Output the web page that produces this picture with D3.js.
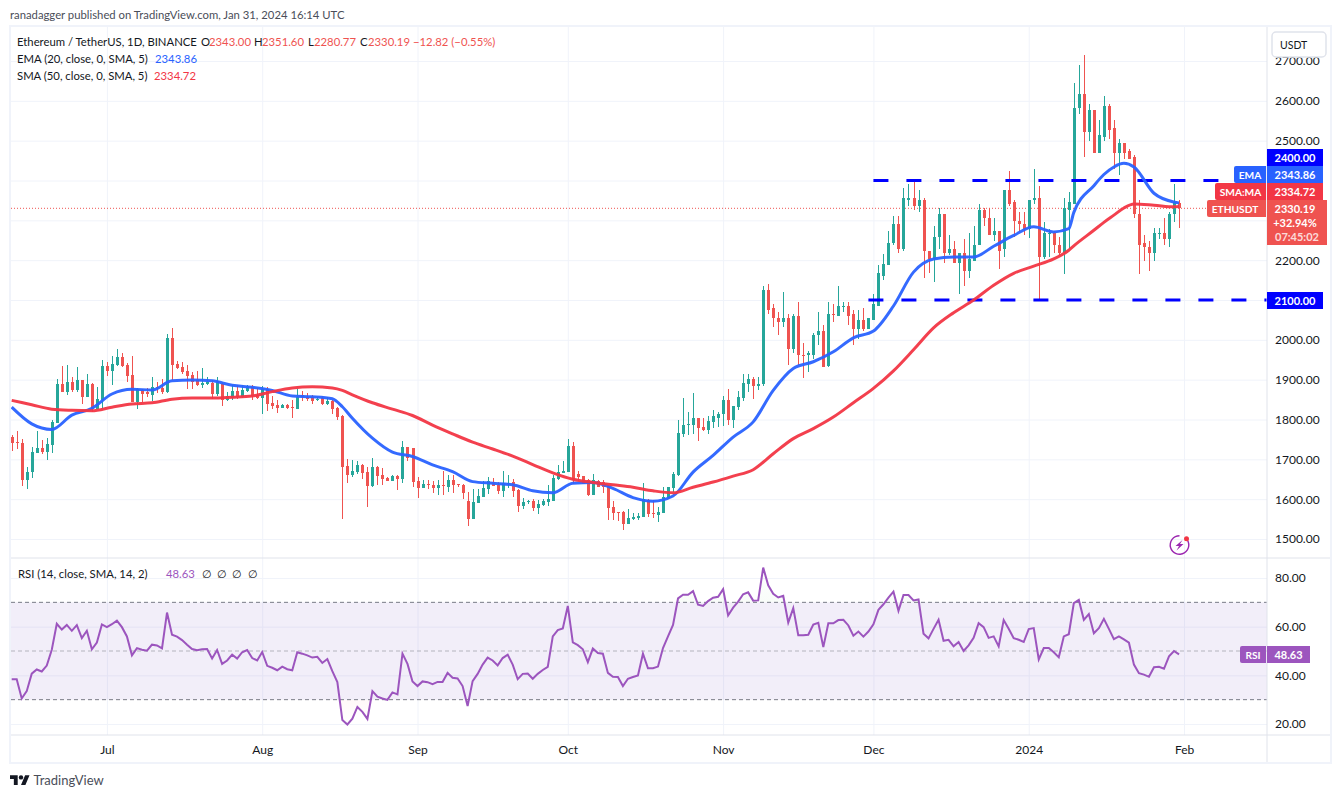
<!DOCTYPE html>
<html>
<head>
<meta charset="utf-8">
<script src="https://cdn.jsdelivr.net/npm/d3@7"></script>
<style>
    body { margin: 0; background: #fff; }
    svg { display: block; }
    text { font-family: Lato, sans-serif; font-size: 11.3px; fill: #131722; }
    .axis path, .axis line { display: none; }
    .grid path { display: none; }
    .grid line { stroke: #f0f3fa; stroke-width: 1; }
    .tag { fill: #fff; font-weight: 700; font-size: 11px; }
</style>
</head>
<body>
<svg id="chart" width="1341" height="798"></svg>
<script>
// Дневные свечи ETHUSDT, 12 июня 2023 - 31 января 2024
const firstDay = "2023-06-12";
const opens = [
    1755,1744,1741,1648,1667,1717,1729,1719,1737,1791,
    1889,1870,1894,1874,1899,1857,1889,1827,1849,1934,
    1922,1937,1957,1937,1912,1844,1873,1868,1862,1882,
    1879,1869,2005,1940,1932,1922,1912,1899,1887,1889,
    1892,1864,1889,1849,1854,1872,1857,1872,1882,1861,
    1854,1877,1842,1837,1829,1837,1832,1827,1861,1856,
    1857,1849,1854,1839,1847,1829,1809,1683,1661,1667,
    1686,1668,1633,1681,1661,1653,1646,1658,1651,1731,
    1728,1646,1628,1638,1636,1628,1636,1631,1648,1637,
    1636,1595,1550,1590,1605,1626,1643,1636,1621,1638,
    1643,1623,1583,1592,1595,1578,1585,1593,1595,1651,
    1666,1668,1733,1663,1658,1648,1610,1646,1643,1633,
    1580,1567,1568,1538,1550,1553,1555,1598,1565,1560,
    1565,1603,1628,1660,1763,1785,1785,1803,1780,1773,
    1793,1805,1813,1848,1798,1831,1853,1888,1901,1883,
    1888,2124,2079,2056,2044,2056,1978,2061,1963,1963,
    1963,2011,2023,1934,2066,2061,2084,2086,2064,2026,
    2051,2028,2051,2086,2161,2189,2242,2292,2229,2352,
    2357,2337,2352,2224,2202,2257,2315,2217,2229,2194,
    2219,2174,2199,2237,2325,2307,2262,2272,2229,2377,
    2345,2299,2292,2279,2350,2355,2207,2267,2269,2239,
    2219,2327,2342,2581,2618,2521,2578,2470,2510,2588,
    2531,2468,2493,2473,2459,2315,2242,2234,2217,2265,
    2267,2254,2315,2343.00
];
const highs = [
    1761,1771,1751,1682,1731,1771,1749,1754,1799,1901,
    1934,1937,1907,1932,1899,1914,1891,1882,1950,1945,
    1960,1977,1967,1942,1960,1879,1877,1878,1907,1894,
    1902,2015,2030,1947,1945,1937,1919,1922,1929,1907,
    1899,1907,1894,1869,1887,1887,1887,1887,1887,1879,
    1884,1882,1859,1849,1839,1839,1849,1877,1872,1867,
    1862,1857,1859,1857,1849,1832,1811,1701,1698,1696,
    1688,1681,1703,1683,1678,1656,1661,1661,1745,1731,
    1728,1656,1648,1648,1646,1648,1671,1661,1661,1638,
    1638,1618,1625,1625,1646,1656,1653,1643,1671,1661,
    1651,1625,1603,1598,1600,1598,1600,1636,1661,1686,
    1696,1751,1743,1671,1658,1650,1663,1648,1648,1636,
    1595,1568,1570,1575,1565,1565,1641,1600,1598,1580,
    1631,1631,1668,1800,1853,1819,1866,1803,1803,1810,
    1823,1820,1858,1876,1835,1871,1913,1913,1906,1906,
    2134,2139,2091,2071,2121,2066,2064,2094,1993,1973,
    2018,2069,2036,2094,2091,2136,2094,2096,2074,2076,
    2079,2056,2114,2189,2216,2274,2310,2312,2382,2392,
    2404,2377,2355,2224,2285,2332,2317,2262,2249,2219,
    2254,2267,2285,2342,2330,2332,2305,2274,2377,2425,
    2350,2321,2322,2352,2430,2385,2295,2277,2272,2257,
    2357,2372,2644,2689,2716,2591,2578,2553,2613,2593,
    2551,2503,2493,2480,2465,2352,2264,2247,2282,2282,
    2307,2322,2392,2351.60
];
const lows = [
    1722,1727,1632,1626,1652,1717,1714,1698,1717,1791,
    1868,1862,1868,1870,1839,1856,1820,1826,1826,1909,
    1887,1934,1932,1894,1844,1827,1844,1857,1847,1866,
    1864,1867,1899,1927,1914,1877,1877,1884,1879,1887,
    1852,1859,1834,1847,1849,1852,1854,1869,1849,1852,
    1814,1822,1827,1817,1829,1827,1804,1827,1847,1847,
    1839,1847,1837,1837,1814,1799,1550,1641,1656,1663,
    1651,1580,1631,1636,1636,1646,1646,1623,1641,1696,
    1631,1603,1628,1626,1616,1610,1610,1618,1615,1631,
    1600,1533,1550,1590,1605,1613,1633,1613,1605,1628,
    1605,1568,1575,1588,1570,1563,1583,1583,1595,1648,
    1666,1668,1638,1646,1638,1608,1610,1631,1615,1548,
    1548,1545,1523,1538,1548,1548,1555,1555,1553,1543,
    1565,1600,1618,1658,1756,1760,1763,1745,1770,1763,
    1778,1780,1783,1785,1778,1823,1846,1868,1851,1873,
    1885,2066,2033,2013,2031,1938,1968,1938,1905,1918,
    1953,1988,1933,1931,2044,2061,2069,2038,1988,2001,
    2021,2026,2049,2086,2149,2189,2237,2219,2222,2337,
    2327,2320,2156,2167,2144,2227,2192,2214,2192,2116,
    2136,2156,2199,2237,2285,2262,2247,2179,2209,2337,
    2257,2271,2262,2256,2340,2101,2202,2207,2217,2212,
    2166,2227,2340,2566,2458,2498,2470,2470,2500,2503,
    2428,2415,2455,2453,2305,2166,2197,2172,2197,2252,
    2239,2234,2297,2280.77
];
const closes = [
    1742,1742,1648,1668,1719,1728,1719,1739,1794,1889,
    1869,1894,1875,1899,1857,1889,1826,1852,1934,1922,
    1940,1957,1934,1909,1844,1877,1864,1865,1882,1878,
    1869,2005,1937,1929,1919,1909,1894,1887,1892,1893,
    1864,1897,1849,1859,1872,1857,1874,1884,1859,1854,
    1877,1839,1834,1829,1837,1829,1830,1857,1857,1852,
    1847,1852,1839,1847,1827,1806,1681,1661,1671,1686,
    1666,1633,1681,1658,1651,1646,1658,1651,1731,1703,
    1643,1628,1638,1636,1628,1636,1633,1648,1636,1635,
    1616,1550,1593,1608,1628,1646,1633,1621,1641,1641,
    1621,1583,1593,1595,1578,1588,1595,1600,1653,1668,
    1671,1733,1648,1656,1638,1610,1648,1631,1631,1578,
    1565,1565,1538,1553,1555,1557,1600,1563,1564,1568,
    1605,1631,1663,1765,1785,1788,1803,1778,1773,1795,
    1808,1815,1848,1798,1833,1856,1891,1901,1883,1888,
    2124,2076,2054,2044,2056,1978,2061,1963,1961,1966,
    2013,2023,1933,2066,2064,2084,2086,2061,2026,2051,
    2028,2054,2089,2167,2191,2244,2292,2229,2355,2357,
    2337,2352,2222,2202,2259,2315,2217,2229,2194,2217,
    2174,2202,2239,2325,2305,2262,2272,2222,2377,2342,
    2299,2292,2279,2352,2355,2207,2267,2269,2237,2219,
    2330,2345,2583,2618,2521,2578,2470,2513,2588,2528,
    2468,2493,2470,2455,2315,2239,2232,2217,2267,2268,
    2254,2317,2345,2330.19
];

// EMA и SMA, индексы дней в maBars
const maBars = [
    0,4,8,12,16,20,24,28,32,36,
    40,44,48,52,56,60,64,66,68,72,
    76,80,84,88,92,96,100,104,108,112,
    116,120,124,128,132,136,140,144,148,152,
    156,160,164,168,172,176,180,184,188,192,
    196,200,204,208,211,212,216,218,220,222,
    224,228,232,233
];
const emaValues = [
    1831,1789,1775,1811,1828,1864,1876,1874,1897,1899,
    1897,1886,1881,1873,1859,1857,1852,1832,1803,1753,
    1718,1707,1686,1669,1644,1640,1636,1621,1616,1640,
    1642,1627,1604,1595,1608,1668,1710,1756,1794,1873,
    1928,1945,1970,2005,2022,2085,2170,2203,2208,2208,
    2235,2262,2284,2271,2279,2320,2387,2415,2434,2443,
    2434,2368,2346,2343.86
];
const smaValues = [
    1848,1837,1826,1823,1822,1831,1839,1842,1851,1854,
    1854,1856,1859,1870,1879,1882,1879,1873,1862,1842,
    1826,1810,1786,1764,1743,1726,1708,1687,1666,1650,
    1642,1636,1630,1621,1616,1630,1643,1658,1674,1714,
    1752,1777,1806,1842,1878,1922,1975,2030,2068,2100,
    2137,2167,2185,2203,2225,2236,2275,2295,2313,2331,
    2341,2338,2334,2334.72
];

const rsiValues = [
    38.4,38.4,30.5,33.5,40.7,42.4,41.6,44,50.5,61.2,
    58.8,60.7,58.3,60.6,55.3,58.3,50.7,53.5,60.9,59.8,
    61,62.5,59.8,56,48.2,51.2,50.5,50.1,52.6,52.3,
    51.1,65.8,56.7,55.9,54.5,52.6,50.8,50.3,50.7,50.8,
    46.9,50.4,44.7,46.1,48.5,46.9,49.5,50.4,47.1,46.1,
    49.6,43.9,43.1,42.1,43.6,42.5,42.1,49.5,48.9,48.2,
    47.3,47.6,45.1,46.7,41.7,37.2,21.6,19.8,22.2,27,
    25,22.1,33.5,31.2,30.5,29.9,33,32.2,48.9,44.7,
    37.5,35.6,37.5,37.2,36.4,37.3,37.3,41,39,38.7,
    35.6,27.4,37.6,40.6,44.4,47.3,46.1,44.1,47.1,48.5,
    44.4,38.4,40.6,40.7,38.6,40.6,42.2,43.5,56,58.6,
    59.3,68.5,53.5,52.4,50.7,45.4,51,49.2,48.9,41,
    39.4,39.3,35.6,38.6,39.3,39.9,48.9,42.9,42.9,43.6,
    51.2,56,60.7,71.6,73.1,73.1,74.6,69,68.5,70.5,
    71.9,72.3,75.4,64.6,67.8,70.3,73.3,74.1,70.7,70.8,
    84.3,77,73.5,72,72.7,61.7,67.6,56.5,56.5,56.7,
    60.9,61.6,51.6,61.4,61.4,62.7,62.8,60.5,56.3,58,
    55.9,58,61,66.9,69.2,71.9,74.4,66.5,73,73,
    70.8,71.2,57.1,55.2,59.1,62.8,54.2,54.6,51.9,53.7,
    50,52.3,55.4,61.4,59.8,55.4,56,51.9,62.7,59.1,
    55.3,54.6,53.7,59,59.4,46.5,51.2,51.2,49.5,47.4,
    56,56.9,69.7,71,62.8,65.2,57.3,59.4,63.2,59.1,
    54.9,56,54.8,53.4,44.4,40.9,40.3,39.4,43.3,43.5,
    42.7,47.8,50,48.63
];

const priceTicks = [1500,1600,1700,1800,1900,2000,2100,2200,2300,2400,2500,2600,2700];
// Подписи 2100, 2300 и 2400 закрыты метками на шкале
const priceLabels = [1500,1600,1700,1800,1900,2000,2200,2500,2600,2700];
const rsiTicks = [20,40,60,80];
const monthTicks = ["2023-07-01","2023-08-01","2023-09-01","2023-10-01","2023-11-01","2023-12-01","2024-01-01","2024-02-01"];
const monthLabels = ["Jul","Aug","Sep","Oct","Nov","Dec","2024","Feb"];

const svg = d3.select("#chart");

const plotLeft = 11, plotRight = 1267;
const paneTop = 27, paneBottom = 558, rsiBottom = 735, frameBottom = 763, frameRight = 1331;

const start = new Date(firstDay);
const barDate = i => d3.utcDay.offset(start, i);
const x = d3.scaleUtc().domain([start, barDate(250)]).range([11.7, 1264.2]);
const y = d3.scaleLinear().domain([1500, 2700]).range([539, 61]);
const yRsi = d3.scaleLinear().domain([20, 80]).range([724, 578]);

const monthDates = monthTicks.map(d => new Date(d));
const bars = closes.map((c, i) => ({ date: barDate(i), open: opens[i], high: highs[i], low: lows[i], close: c, rsi: rsiValues[i] }));

const defs = svg.append("defs");
defs.append("clipPath").attr("id", "aboveRsi").append("rect")
    .attr("x", plotLeft).attr("y", 560).attr("width", plotRight - plotLeft).attr("height", yRsi(70) - 560);
defs.append("clipPath").attr("id", "belowRsi").append("rect")
    .attr("x", plotLeft).attr("y", yRsi(30)).attr("width", plotRight - plotLeft).attr("height", rsiBottom - yRsi(30));
const gradUp = defs.append("linearGradient").attr("id", "rsiUp").attr("x1", 0).attr("x2", 0).attr("y1", 0).attr("y2", 1);
gradUp.append("stop").attr("offset", 0).attr("stop-color", "#4caf50").attr("stop-opacity", 0);
gradUp.append("stop").attr("offset", 1).attr("stop-color", "#4caf50").attr("stop-opacity", 0.16);
const gradDown = defs.append("linearGradient").attr("id", "rsiDown").attr("x1", 0).attr("x2", 0).attr("y1", 0).attr("y2", 1);
gradDown.append("stop").attr("offset", 0).attr("stop-color", "#ff5252").attr("stop-opacity", 0.25);
gradDown.append("stop").attr("offset", 1).attr("stop-color", "#ff5252").attr("stop-opacity", 0);

// Сетка
svg.append("g").attr("class", "grid")
    .attr("transform", `translate(${plotLeft},0)`)
    .call(d3.axisRight(y).tickValues(priceTicks).tickSize(plotRight - plotLeft).tickFormat(""));
svg.append("g").attr("class", "grid")
    .attr("transform", `translate(${plotLeft},0)`)
    .call(d3.axisRight(yRsi).tickValues(rsiTicks).tickSize(plotRight - plotLeft).tickFormat(""));
svg.append("g").attr("class", "grid")
    .attr("transform", `translate(0,${paneBottom})`)
    .call(d3.axisTop(x).tickValues(monthDates).tickSize(paneBottom - paneTop).tickFormat(""));
svg.append("g").attr("class", "grid")
    .attr("transform", `translate(0,${rsiBottom})`)
    .call(d3.axisTop(x).tickValues(monthDates).tickSize(rsiBottom - paneBottom).tickFormat(""));

// Линия текущей цены
svg.append("line")
    .attr("x1", plotLeft).attr("x2", 1207)
    .attr("y1", y(closes[closes.length - 1])).attr("y2", y(closes[closes.length - 1]))
    .style("stroke", "#ef5350").style("stroke-dasharray", "1,2");

// Свечи
const candle = svg.append("g").selectAll("g")
    .data(bars)
    .enter().append("g")
    .style("fill", d => d.close >= d.open ? "#26a69a" : "#ef5350")
    .style("shape-rendering", "crispEdges");
candle.append("rect")
    .attr("x", d => Math.round(x(d.date)))
    .attr("width", 1)
    .attr("y", d => y(d.high))
    .attr("height", d => y(d.low) - y(d.high));
candle.append("rect")
    .attr("x", d => Math.round(x(d.date)) - 1)
    .attr("width", 3)
    .attr("y", d => y(Math.max(d.open, d.close)))
    .attr("height", d => Math.max(1, Math.abs(y(d.open) - y(d.close))));

// Уровни 2400 и 2100
function levelLine(value, fromDay, toDay) {
    svg.append("line")
        .attr("x1", x(new Date(fromDay))).attr("x2", toDay ? x(new Date(toDay)) : plotRight)
        .attr("y1", y(value)).attr("y2", y(value))
        .style("stroke", "#0000ff").style("stroke-width", 3)
        .style("stroke-dasharray", "15,18");
}
levelLine(2400, "2023-12-01", "2024-02-08");
levelLine(2100, "2023-11-30");

// Скользящие средние
const maLine = d3.line()
    .x((d, i) => x(barDate(maBars[i])))
    .y(d => y(d))
    .curve(d3.curveMonotoneX);
svg.append("path").datum(emaValues).attr("d", maLine)
    .style("fill", "none").style("stroke", "#2962ff").style("stroke-width", 3).style("stroke-opacity", 0.95);
svg.append("path").datum(smaValues).attr("d", maLine)
    .style("fill", "none").style("stroke", "#f23645").style("stroke-width", 3).style("stroke-opacity", 0.95);

// Панель RSI
svg.append("rect")
    .attr("x", plotLeft).attr("width", plotRight - plotLeft)
    .attr("y", yRsi(70)).attr("height", yRsi(30) - yRsi(70))
    .style("fill", "#7e57c2").style("fill-opacity", 0.1);
const rsiLevels = [[70, "#787b86", 1], [50, "#787b86", 0.5], [30, "#787b86", 1]];
svg.append("g").selectAll("line")
    .data(rsiLevels)
    .enter().append("line")
    .attr("x1", plotLeft).attr("x2", plotRight)
    .attr("y1", d => yRsi(d[0])).attr("y2", d => yRsi(d[0]))
    .style("stroke", d => d[1]).style("stroke-opacity", d => d[2])
    .style("stroke-dasharray", "4,3");

const rsiArea = level => d3.area()
    .x(d => x(d.date))
    .y0(yRsi(level))
    .y1(d => yRsi(d.rsi));
svg.append("path").datum(bars).attr("d", rsiArea(70))
    .attr("clip-path", "url(#aboveRsi)").style("fill", "url(#rsiUp)");
svg.append("path").datum(bars).attr("d", rsiArea(30))
    .attr("clip-path", "url(#belowRsi)").style("fill", "url(#rsiDown)");
svg.append("path").datum(bars)
    .attr("d", d3.line().x(d => x(d.date)).y(d => yRsi(d.rsi)))
    .style("fill", "none").style("stroke", "#9c55be").style("stroke-width", 2);

// Рамка и разделители панелей
const borderColor = "#e0e3eb";
svg.append("rect")
    .attr("x", 10).attr("y", 26).attr("width", frameRight - 10).attr("height", frameBottom - 26)
    .style("fill", "none").style("stroke", "#f0f3fa").style("stroke-width", 2);
[[plotLeft, frameRight - 1, paneBottom, paneBottom], [plotLeft, frameRight - 1, rsiBottom, rsiBottom], [plotRight, plotRight, 27, frameBottom - 1]]
    .forEach(s => svg.append("line")
        .attr("x1", s[0]).attr("x2", s[1]).attr("y1", s[2]).attr("y2", s[3])
        .style("stroke", borderColor));

// Оси
svg.append("g").attr("class", "axis")
    .attr("transform", `translate(${plotRight},0)`)
    .call(d3.axisRight(y).tickValues(priceLabels).tickSize(0).tickPadding(8).tickFormat(d3.format(".2f")));
svg.append("g").attr("class", "axis")
    .attr("transform", `translate(${plotRight},0)`)
    .call(d3.axisRight(yRsi).tickValues(rsiTicks).tickSize(0).tickPadding(8).tickFormat(d3.format(".2f")));
svg.append("g").attr("class", "axis")
    .attr("transform", `translate(0,${rsiBottom})`)
    .call(d3.axisBottom(x).tickValues(monthDates).tickSize(0).tickPadding(10)
        .tickFormat((d, i) => monthLabels[i]));
svg.selectAll(".axis text").style("font-family", "Lato, sans-serif").style("font-size", "12px").style("fill", "#131722");

// Кнопка USDT
svg.append("rect").attr("x", 1272).attr("y", 32).attr("width", 54).attr("height", 25).attr("rx", 4)
    .style("fill", "#fff").style("stroke", "#e0e3eb").style("stroke-width", 1.5);
svg.append("text").attr("x", 1280).attr("y", 49).style("font-size", "10.5px").text("USDT");

// Метки на шкале цены
function priceTag(x0, y0, w, h, color, label, leftRound) {
    svg.append("path")
        .attr("d", leftRound
            ? `M${x0 + w},${y0}H${x0 + 2}Q${x0},${y0} ${x0},${y0 + 2}V${y0 + h - 2}Q${x0},${y0 + h} ${x0 + 2},${y0 + h}H${x0 + w}Z`
            : `M${x0},${y0}H${x0 + w}V${y0 + h}H${x0}Z`)
        .style("fill", color);
    svg.append("text").attr("class", "tag")
        .attr("x", x0 + Math.min(w, 56) / 2).attr("y", y0 + 12.5)
        .attr("text-anchor", "middle")
        .style("font-size", leftRound ? "10.2px" : "11px")
        .text(label);
}
const tagLeft = plotRight;
priceTag(tagLeft, 149, 56, 17, "#0000ff", "2400.00");
priceTag(tagLeft, 166, 56, 17, "#2962ff", "2343.86");
priceTag(1234, 166, 32, 17, "#2962ff", "EMA", true);
priceTag(tagLeft, 183, 56, 17, "#f23645", "2334.72");
priceTag(1215, 183, 51, 17, "#f23645", "SMA:MA", true);
priceTag(tagLeft, 200, 60, 45, "#ef5350", "2330.19");
priceTag(1207, 200, 59, 17, "#ef5350", "ETHUSDT", true);
svg.append("text").attr("class", "tag").attr("x", 1295).attr("y", 227).attr("text-anchor", "middle").text("+32.94%");
svg.append("text").attr("class", "tag").attr("x", 1297).attr("y", 241).attr("text-anchor", "middle")
    .style("fill-opacity", 0.8).text("07:45:02");
priceTag(tagLeft, 292, 56, 17, "#0000ff", "2100.00");
priceTag(tagLeft, 646, 43, 17, "#9c55be", "48.63");
priceTag(1240, 646, 26, 17, "#9c55be", "RSI", true);

// Легенда
function legend(yPos, parts) {
    parts.forEach(p => svg.append("text")
        .attr("x", p[0]).attr("y", yPos).style("fill", p[2] || "#131722").text(p[1]));
}
const red = "#ef5350";
legend(19, [[10, "ranadagger published on TradingView.com, Jan 31, 2024 16:14 UTC", "#4a4e59"]]);
legend(46, [
    [17, "Ethereum / TetherUS, 1D, BINANCE"],
    [201, "O"], [209, "2343.00", red],
    [254, "H"], [262, "2351.60", red],
    [308, "L"], [314, "2280.77", red],
    [360, "C"], [368, "2330.19", red],
    [413, "−12.82 (−0.55%)", red]
]);
legend(63, [[17, "EMA (20, close, 0, SMA, 5)"], [155, "2343.86", "#2962ff"]]);
legend(80, [[17, "SMA (50, close, 0, SMA, 5)"], [154, "2334.72", "#f23645"]]);
legend(578, [
    [18, "RSI (14, close, SMA, 14, 2)"], [166, "48.63", "#9c55be"],
    [202, "∅"], [217, "∅"], [232, "∅"], [248, "∅"]
]);

// Значок молнии
const bolt = svg.append("g").attr("transform", "translate(1179.5,545)");
bolt.append("path")
    .attr("d", d3.arc()({ innerRadius: 8.6, outerRadius: 10, startAngle: 0.75, endAngle: 2 * Math.PI }))
    .style("fill", "#9c27b0");
bolt.append("path").attr("d", "M3,-5L-4,1H-0.5L-3,5.5L4,-1H0.5Z").style("fill", "#9c27b0");
bolt.append("circle").attr("cx", 7).attr("cy", -6.3).attr("r", 2.5).style("fill", "#f23645");

// Логотип TradingView
const logo = svg.append("g").attr("transform", "translate(10,773) scale(0.55)");
logo.append("path").attr("d", "M14 22H7V11H0V4h14v18zM28 22h-8l7.5-18h8L28 22z").style("fill", "#131722");
logo.append("circle").attr("cx", 20).attr("cy", 8).attr("r", 4).style("fill", "#131722");
svg.append("text").attr("x", 33.5).attr("y", 785).style("font-size", "13px").style("fill", "#4a4e59").text("TradingView");
</script>
</body>
</html>
